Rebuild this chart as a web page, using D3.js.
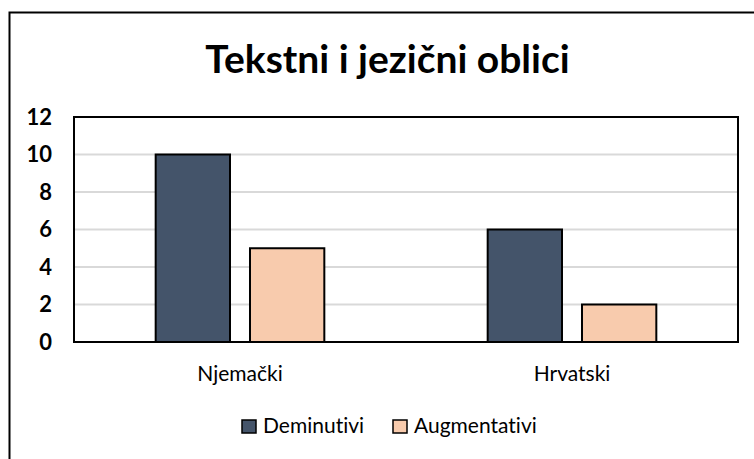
<!DOCTYPE html>
<html>
<head>
<meta charset="utf-8">
<script src="https://cdn.jsdelivr.net/npm/d3@7.9.0/dist/d3.min.js"></script>
<style>
  body { margin: 0; background: #fff; }
  svg { display: block; font-family: Lato, "Open Sans", sans-serif; font-variant-ligatures: none; }
</style>
</head>
<body>
<svg id="chart" width="754" height="459"></svg>
<script>
const title = 'Tekstni i jezični oblici';
const categories = ['Njemački', 'Hrvatski'];
const seriesNames = ['Deminutivi', 'Augmentativi'];
const deminutivi = [10, 6];
const augmentativi = [5, 2];
const yTicks = [0, 2, 4, 6, 8, 10, 12];
const seriesColors = ['#44546a', '#f8cbad'];

const svg = d3.select('#chart');

// outer chart frame (runs past right/bottom of the window)
svg.append('rect')
  .attr('x', 9.5).attr('y', 12.5)
  .attr('width', 800).attr('height', 500)
  .attr('fill', 'none').attr('stroke', '#000').attr('stroke-width', 2);

const plot = { left: 74, right: 738, top: 117, bottom: 342 };

let x0 = d3.scaleBand().domain(categories).range([plot.left, plot.right]).padding(0);
let x1 = d3.scaleBand().domain(seriesNames)
  .range([0, x0.bandwidth()])
  .paddingInner(0.212)
  .paddingOuter(0.866);
let y = d3.scaleLinear().domain([0, 12]).range([plot.bottom, plot.top]);

// gridlines
svg.append('g')
  .selectAll('line')
  .data(yTicks.filter(t => t > 0 && t < 12))
  .join('line')
  .attr('x1', plot.left).attr('x2', plot.right)
  .attr('y1', d => y(d)).attr('y2', d => y(d))
  .attr('stroke', '#d9d9d9').attr('stroke-width', 2);

// bars
const rows = categories.map((c, i) => ({ cat: c, values: [deminutivi[i], augmentativi[i]] }));
rows.forEach(row => {
  row.values.forEach((v, j) => {
    svg.append('rect')
      .attr('x', x0(row.cat) + x1(seriesNames[j]))
      .attr('y', y(v))
      .attr('width', x1.bandwidth())
      .attr('height', y(0) - y(v))
      .attr('fill', seriesColors[j])
      .attr('stroke', '#000').attr('stroke-width', 2);
  });
});

// plot area border
svg.append('rect')
  .attr('x', plot.left).attr('y', plot.top)
  .attr('width', plot.right - plot.left).attr('height', plot.bottom - plot.top)
  .attr('fill', 'none').attr('stroke', '#000').attr('stroke-width', 2);

// y axis labels
let yAxis = d3.axisLeft(y).tickValues(yTicks).tickSize(0).tickPadding(22);
let yg = svg.append('g').attr('transform', `translate(${plot.left},0)`).call(yAxis);
yg.select('.domain').remove();
yg.selectAll('text')
  .attr('font-family', 'Lato, sans-serif')
  .attr('font-size', 22).attr('font-weight', 'bold').attr('fill', '#000');

// x axis labels
let xAxis = d3.axisBottom(x0).tickSize(0).tickPadding(24);
let xg = svg.append('g').attr('transform', `translate(0,${plot.bottom})`).call(xAxis);
xg.select('.domain').remove();
xg.selectAll('text')
  .attr('font-family', 'Lato, sans-serif')
  .attr('font-size', 21).attr('fill', '#000');

// title
svg.append('text')
  .attr('x', 387.5).attr('y', 73)
  .attr('text-anchor', 'middle')
  .attr('font-size', 39).attr('font-weight', 'bold')
  .text(title);

// legend
const legendX = [242, 393];
seriesNames.forEach((name, j) => {
  let g = svg.append('g').attr('transform', `translate(${legendX[j]},420)`);
  g.append('rect').attr('width', 14).attr('height', 13)
    .attr('fill', seriesColors[j]).attr('stroke', '#000').attr('stroke-width', 1.5);
  g.append('text').attr('x', 21).attr('y', 13)
    .attr('font-size', 21).text(name);
});
</script>
</body>
</html>
